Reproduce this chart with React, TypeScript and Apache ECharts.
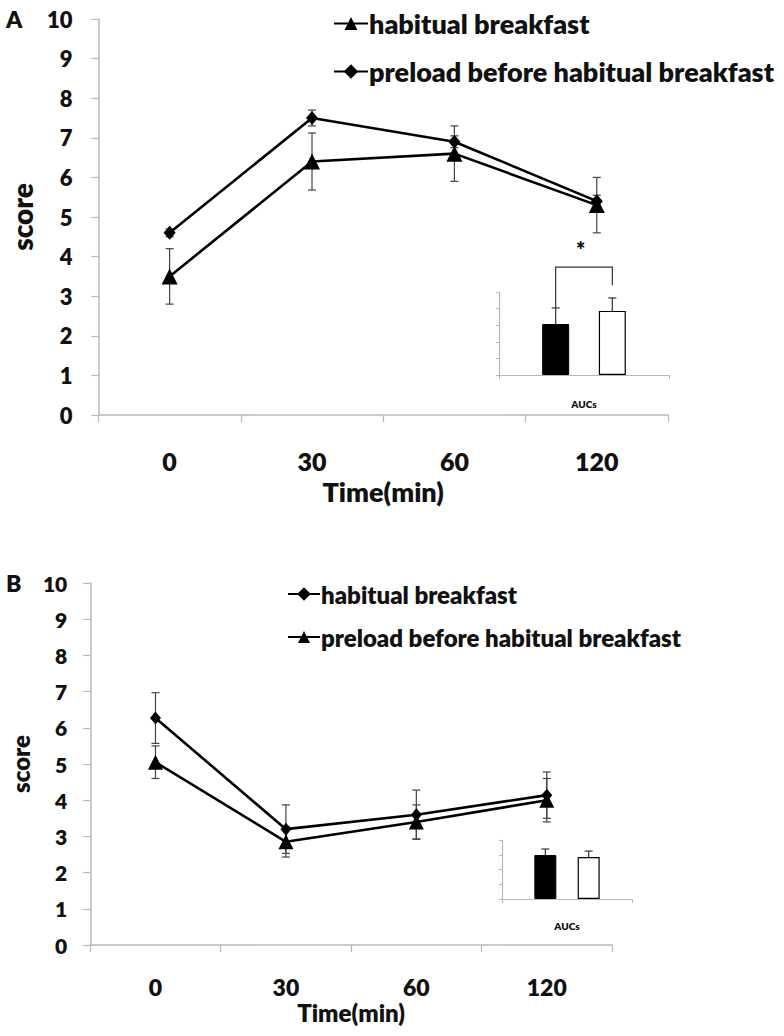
import React, { useEffect, useRef } from "react";
import * as echarts from "echarts";

// ---------- data ----------
const timeLabels = ["0", "30", "60", "120"];
const yRangeMain = [0, 10];

// Panel A
const habitualA = [3.5, 6.4, 6.6, 5.3];
const habitualA_sd = [0.7, 0.72, 0.7, 0.7];
const preloadA = [4.6, 7.5, 6.9, 5.4];
const preloadA_sd = [0.1, 0.2, 0.15, 0.15];
const aucA = [3.07, 3.86];
const aucA_sd = [0.97, 0.78];
const bracketA = [1, 4.05, 6.5, 2, 5.4]; // x1, y1, top, x2, y2 (inset data units)

// Panel B
const habitualB = [6.27, 3.2, 3.6, 4.14];
const habitualB_sd = [0.7, 0.67, 0.68, 0.64];
const preloadB = [5.05, 2.85, 3.4, 4.0];
const preloadB_sd = [0.45, 0.42, 0.47, 0.6];
const aucB = [2.98, 2.85];
const aucB_sd = [0.41, 0.4];

const legendNames = ["habitual breakfast", "preload before habitual breakfast"];

// ---------- helpers ----------
const FONT = "Lato";
const W = 800 as any;
const AXIS_GRAY = "#b8b8b8";
const INK = "#111";

function errData(means: number[], sds: number[]) {
  return means.map((m, i) => [i, m - sds[i], m + sds[i]]);
}

function errRender(params: any, api: any) {
  const x = api.value(0);
  const lo = api.coord([x, api.value(1)]);
  const hi = api.coord([x, api.value(2)]);
  const cap = 4;
  const style = { stroke: "#444", lineWidth: 1.2 };
  return {
    type: "group",
    children: [
      { type: "line", shape: { x1: lo[0], y1: lo[1], x2: hi[0], y2: hi[1] }, style },
      { type: "line", shape: { x1: lo[0] - cap, y1: lo[1], x2: lo[0] + cap, y2: lo[1] }, style },
      { type: "line", shape: { x1: hi[0] - cap, y1: hi[1], x2: hi[0] + cap, y2: hi[1] }, style },
    ],
  };
}

function barErrRender(params: any, api: any) {
  const x = api.value(0);
  const lo = api.coord([x, api.value(1)]);
  const hi = api.coord([x, api.value(2)]);
  const cap = 4;
  const style = { stroke: "#333", lineWidth: 1.2 };
  return {
    type: "group",
    children: [
      { type: "line", shape: { x1: lo[0], y1: lo[1], x2: hi[0], y2: hi[1] }, style },
      { type: "line", shape: { x1: hi[0] - cap, y1: hi[1], x2: hi[0] + cap, y2: hi[1] }, style },
    ],
  };
}

function bracketRender(params: any, api: any) {
  const p1 = api.coord([api.value(0), api.value(1)]);
  const t1 = api.coord([api.value(0), api.value(2)]);
  const t2 = api.coord([api.value(3), api.value(2)]);
  const p2 = api.coord([api.value(3), api.value(4)]);
  return {
    type: "polyline",
    shape: { points: [p1, t1, t2, p2] },
    style: { stroke: "#333", lineWidth: 1.2, fill: "none" },
  };
}

const labelStyle = (size: number) => ({
  fontFamily: FONT,
  fontWeight: W,
  fontSize: size,
  color: INK,
});

function mainX(grid: number, margin: number, gap: number, size: number, nameSize: number) {
  return {
    gridIndex: grid,
    type: "category",
    data: timeLabels,
    boundaryGap: true,
    axisLine: { show: true, lineStyle: { color: AXIS_GRAY, width: 1.5 } },
    axisTick: { show: true, length: 7, lineStyle: { color: AXIS_GRAY, width: 1.2 } },
    axisLabel: { margin, ...labelStyle(size) },
    splitLine: { show: false },
    name: "Time(min)",
    nameLocation: "middle",
    nameGap: gap,
    nameTextStyle: labelStyle(nameSize),
  };
}

function mainY(grid: number, margin: number, gap: number, size: number, nameSize: number) {
  return {
    gridIndex: grid,
    type: "value",
    min: yRangeMain[0],
    max: yRangeMain[1],
    interval: 1,
    axisLine: { show: true, lineStyle: { color: AXIS_GRAY, width: 1.5 } },
    axisTick: { show: true, length: 7, lineStyle: { color: AXIS_GRAY, width: 1.2 } },
    axisLabel: { margin, ...labelStyle(size) },
    splitLine: { show: false },
    name: "score",
    nameLocation: "middle",
    nameRotate: 90,
    nameGap: gap,
    nameTextStyle: labelStyle(nameSize),
  };
}

function insetX(grid: number, gap: number) {
  return {
    gridIndex: grid,
    type: "value",
    min: 0,
    max: 3,
    interval: 3,
    axisLine: { show: true, onZero: false, lineStyle: { color: AXIS_GRAY, width: 1.2 } },
    axisTick: { show: true, length: 4, lineStyle: { color: AXIS_GRAY } },
    axisLabel: { show: false },
    splitLine: { show: false },
    name: "AUCs",
    nameLocation: "middle",
    nameGap: gap,
    nameTextStyle: labelStyle(10),
  };
}

function insetY(grid: number, max: number) {
  return {
    gridIndex: grid,
    type: "value",
    min: 0,
    max,
    interval: 1,
    axisLine: { show: true, lineStyle: { color: AXIS_GRAY, width: 1.2 } },
    axisTick: { show: true, length: 3, lineStyle: { color: AXIS_GRAY } },
    axisLabel: { show: false },
    splitLine: { show: false },
  };
}

function lineSeries(name: string, data: number[], symbol: string, size: any, grid: number) {
  return {
    name,
    type: "line",
    xAxisIndex: grid,
    yAxisIndex: grid,
    data,
    symbol,
    symbolSize: size,
    lineStyle: { color: "#000", width: 2.6 },
    itemStyle: { color: "#000" },
    z: 4,
  };
}

function legendFor(name: string, left: number, top: number, size: number, iw: number, ih: number) {
  return {
    data: [name],
    left,
    top,
    itemWidth: iw,
    itemHeight: ih,
    selectedMode: false,
    padding: 0,
    formatter: (n: string) => n.slice(2),
    textStyle: { ...labelStyle(size), padding: [0, 0, 0, -4] },
  };
}

export default function App() {
  const ref = useRef<HTMLDivElement>(null);
  useEffect(() => {
    if (!ref.current) return;
    const chart = echarts.init(ref.current, undefined, { renderer: "svg" });
    const nA1 = "A " + legendNames[0];
    const nA2 = "A " + legendNames[1];
    const nB1 = "B " + legendNames[0];
    const nB2 = "B " + legendNames[1];
    chart.setOption({
      animation: false,
      backgroundColor: "#fff",
      grid: [
        { left: 88, top: 19, width: 580, height: 396 },
        { left: 499, top: 292, width: 170, height: 83 },
        { left: 90, top: 583, width: 522, height: 362 },
        { left: 502, top: 840, width: 130, height: 59 },
      ],
      xAxis: [mainX(0, 33, 63, 25, 27), insetX(1, 24), mainX(2, 30, 55, 23, 24), insetX(3, 22)],
      yAxis: [mainY(0, 26, 58, 22, 28), insetY(1, 5), mainY(2, 23, 50, 21, 24), insetY(3, 4)],
      legend: [
        legendFor(nA1, 333, 10, 27, 34, 16),
        legendFor(nA2, 333, 58, 27, 34, 18),
        legendFor(nB1, 287, 582, 24, 32, 17),
        legendFor(nB2, 287, 625, 24, 32, 15),
      ],
      series: [
        // Panel A
        { type: "custom", xAxisIndex: 0, yAxisIndex: 0, renderItem: errRender, data: errData(habitualA, habitualA_sd), z: 2 },
        { type: "custom", xAxisIndex: 0, yAxisIndex: 0, renderItem: errRender, data: errData(preloadA, preloadA_sd), z: 2 },
        lineSeries(nA1, habitualA, "triangle", 16, 0),
        lineSeries(nA2, preloadA, "diamond", [12, 14], 0),
        {
          type: "bar",
          xAxisIndex: 1,
          yAxisIndex: 1,
          barWidth: 27,
          data: [
            { value: [1, aucA[0]], itemStyle: { color: "#000", borderColor: "#000", borderWidth: 1 } },
            { value: [2, aucA[1]], itemStyle: { color: "#fff", borderColor: "#000", borderWidth: 1.2 } },
          ],
          z: 3,
        },
        {
          type: "custom",
          xAxisIndex: 1,
          yAxisIndex: 1,
          renderItem: barErrRender,
          data: aucA.map((m, i) => [i + 1, m, m + aucA_sd[i]]),
          z: 2,
        },
        { type: "custom", xAxisIndex: 1, yAxisIndex: 1, renderItem: bracketRender, data: [bracketA], clip: false, z: 2 },
        // Panel B
        { type: "custom", xAxisIndex: 2, yAxisIndex: 2, renderItem: errRender, data: errData(habitualB, habitualB_sd), z: 2 },
        { type: "custom", xAxisIndex: 2, yAxisIndex: 2, renderItem: errRender, data: errData(preloadB, preloadB_sd), z: 2 },
        lineSeries(nB1, habitualB, "diamond", [11, 13], 2),
        lineSeries(nB2, preloadB, "triangle", 15, 2),
        {
          type: "bar",
          xAxisIndex: 3,
          yAxisIndex: 3,
          barWidth: 22,
          data: [
            { value: [1, aucB[0]], itemStyle: { color: "#000", borderColor: "#000", borderWidth: 1 } },
            { value: [2, aucB[1]], itemStyle: { color: "#fff", borderColor: "#000", borderWidth: 1.2 } },
          ],
          z: 3,
        },
        {
          type: "custom",
          xAxisIndex: 3,
          yAxisIndex: 3,
          renderItem: barErrRender,
          data: aucB.map((m, i) => [i + 1, m, m + aucB_sd[i]]),
          z: 2,
        },
      ],
      graphic: [
        { type: "text", left: 6, top: 7, style: { text: "A", font: `800 23px ${FONT}`, fill: INK } },
        { type: "text", left: 6, top: 571, style: { text: "B", font: `800 23px ${FONT}`, fill: INK } },
        { type: "text", left: 576, top: 238, style: { text: "*", font: `800 22px ${FONT}`, fill: INK } },
      ],
    });
    return () => chart.dispose();
  }, []);
  return (
    <div
      ref={ref}
      style={{ position: "fixed", left: 0, top: 0, width: 784, height: 1036, background: "#fff" }}
    />
  );
}
